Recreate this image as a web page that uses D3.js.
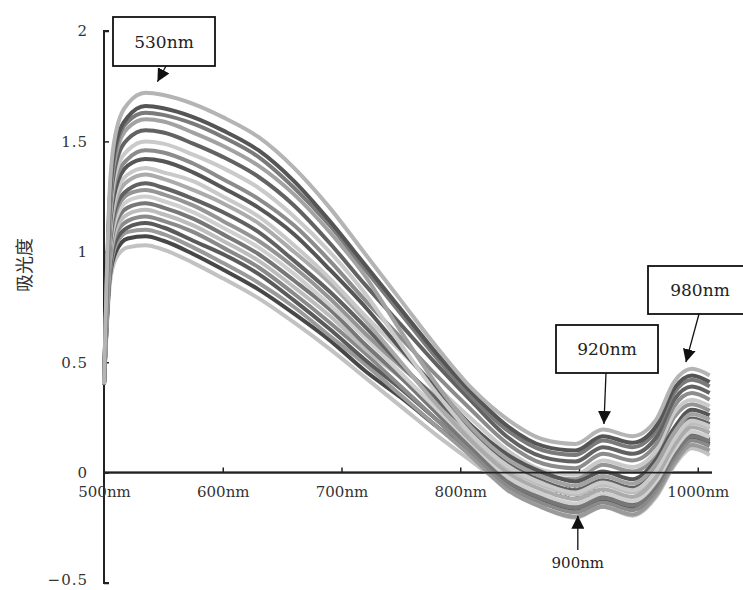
<!DOCTYPE html>
<html>
<head>
<meta charset="utf-8">
<script src="https://cdn.jsdelivr.net/npm/d3@7"></script>
<style>
  body { margin: 0; background: #fff; }
</style>
</head>
<body>
<div id="chart"></div>
<script>
// wavelength grid (nm)
var wavelengths = [500, 505, 510, 520, 535, 550, 575, 600, 630, 660, 690, 720, 750, 780, 810, 840, 870, 897, 920, 945, 965, 980, 995, 1010];

// absorbance spectra, one list per sample
var sample01 = [0.40, 1.30, 1.54, 1.67, 1.72, 1.71, 1.67, 1.61, 1.52, 1.38, 1.20, 0.99, 0.78, 0.57, 0.38, 0.24, 0.15, 0.13, 0.195, 0.165, 0.24, 0.41, 0.47, 0.44];
var sample02 = [0.40, 1.26, 1.49, 1.61, 1.66, 1.65, 1.61, 1.55, 1.46, 1.32, 1.14, 0.94, 0.74, 0.54, 0.36, 0.21, 0.12, 0.10, 0.165, 0.135, 0.21, 0.38, 0.44, 0.41];
var sample03 = [0.40, 1.24, 1.47, 1.59, 1.63, 1.62, 1.58, 1.52, 1.43, 1.29, 1.12, 0.92, 0.72, 0.52, 0.34, 0.19, 0.10, 0.08, 0.145, 0.115, 0.19, 0.36, 0.42, 0.39];
var sample04 = [0.40, 1.22, 1.44, 1.56, 1.60, 1.59, 1.54, 1.48, 1.39, 1.26, 1.09, 0.89, 0.64, 0.40, 0.20, 0.06, -0.02, -0.06, -0.015, -0.05, 0.04, 0.18, 0.265, 0.24];
var sample05 = [0.40, 1.19, 1.40, 1.51, 1.55, 1.54, 1.49, 1.43, 1.34, 1.21, 1.04, 0.85, 0.67, 0.49, 0.32, 0.16, 0.07, 0.05, 0.115, 0.085, 0.16, 0.33, 0.39, 0.36];
var sample06 = [0.40, 1.16, 1.36, 1.46, 1.50, 1.49, 1.44, 1.38, 1.29, 1.16, 1.00, 0.81, 0.58, 0.36, 0.17, 0.03, -0.05, -0.09, -0.045, -0.08, 0.01, 0.15, 0.235, 0.21];
var sample07 = [0.40, 1.13, 1.33, 1.42, 1.46, 1.45, 1.40, 1.33, 1.24, 1.12, 0.96, 0.78, 0.61, 0.44, 0.28, 0.13, 0.04, 0.02, 0.085, 0.055, 0.13, 0.30, 0.36, 0.33];
var sample08 = [0.40, 1.11, 1.29, 1.39, 1.42, 1.41, 1.36, 1.29, 1.20, 1.08, 0.92, 0.75, 0.56, 0.38, 0.21, 0.08, 0.00, -0.04, 0.005, -0.03, 0.06, 0.20, 0.285, 0.26];
var sample09 = [0.40, 1.08, 1.26, 1.35, 1.38, 1.36, 1.32, 1.25, 1.16, 1.03, 0.88, 0.71, 0.55, 0.39, 0.24, 0.10, 0.01, -0.01, 0.055, 0.025, 0.10, 0.27, 0.33, 0.30];
var sample10 = [0.40, 1.06, 1.23, 1.32, 1.35, 1.33, 1.28, 1.22, 1.13, 1.00, 0.86, 0.69, 0.50, 0.31, 0.14, 0.00, -0.08, -0.12, -0.075, -0.11, -0.02, 0.12, 0.205, 0.18];
var sample11 = [0.40, 1.04, 1.20, 1.28, 1.31, 1.29, 1.24, 1.18, 1.09, 0.96, 0.82, 0.66, 0.49, 0.33, 0.18, 0.04, -0.04, -0.08, -0.035, -0.07, 0.02, 0.16, 0.245, 0.22];
var sample12 = [0.40, 1.02, 1.18, 1.26, 1.28, 1.26, 1.21, 1.14, 1.05, 0.93, 0.79, 0.63, 0.48, 0.34, 0.20, 0.08, -0.01, -0.03, 0.035, 0.005, 0.08, 0.25, 0.31, 0.28];
var sample13 = [0.40, 1.00, 1.15, 1.23, 1.25, 1.23, 1.18, 1.11, 1.02, 0.90, 0.76, 0.61, 0.45, 0.29, 0.13, -0.02, -0.10, -0.14, -0.095, -0.13, -0.04, 0.10, 0.185, 0.16];
var sample14 = [0.40, 0.98, 1.13, 1.20, 1.22, 1.20, 1.15, 1.08, 0.99, 0.87, 0.74, 0.58, 0.43, 0.27, 0.11, -0.04, -0.12, -0.16, -0.115, -0.15, -0.06, 0.08, 0.165, 0.14];
var sample15 = [0.40, 0.96, 1.10, 1.17, 1.19, 1.17, 1.12, 1.05, 0.96, 0.84, 0.71, 0.56, 0.43, 0.30, 0.16, 0.02, -0.06, -0.10, -0.055, -0.09, 0.00, 0.14, 0.225, 0.20];
var sample16 = [0.40, 0.94, 1.08, 1.14, 1.16, 1.14, 1.09, 1.02, 0.93, 0.81, 0.68, 0.54, 0.39, 0.24, 0.09, -0.06, -0.14, -0.18, -0.135, -0.17, -0.08, 0.06, 0.145, 0.12];
var sample17 = [0.40, 0.92, 1.05, 1.11, 1.13, 1.11, 1.05, 0.99, 0.90, 0.78, 0.65, 0.51, 0.38, 0.24, 0.10, -0.03, -0.11, -0.15, -0.105, -0.14, -0.05, 0.09, 0.175, 0.15];
var sample18 = [0.40, 0.90, 1.03, 1.09, 1.10, 1.08, 1.02, 0.95, 0.86, 0.75, 0.62, 0.49, 0.35, 0.21, 0.07, -0.08, -0.16, -0.20, -0.155, -0.19, -0.10, 0.04, 0.125, 0.10];
var sample19 = [0.40, 0.89, 1.00, 1.06, 1.07, 1.05, 0.99, 0.92, 0.83, 0.72, 0.60, 0.46, 0.34, 0.21, 0.08, -0.05, -0.13, -0.17, -0.125, -0.16, -0.07, 0.07, 0.155, 0.13];
var sample20 = [0.40, 0.86, 0.97, 1.02, 1.03, 1.01, 0.95, 0.88, 0.79, 0.68, 0.56, 0.43, 0.30, 0.17, 0.05, -0.07, -0.16, -0.205, -0.155, -0.195, -0.11, 0.03, 0.11, 0.08];

var samples = [sample20, sample19, sample18, sample17, sample16, sample15, sample14, sample13, sample12, sample11,
               sample10, sample09, sample08, sample07, sample06, sample05, sample04, sample03, sample02, sample01];

// axis ticks
var xTicks = [500, 600, 700, 800, 900, 1000];
var yTicks = [-0.5, 0, 0.5, 1, 1.5, 2];

// peak call-outs
var calloutText = ["530nm", "920nm", "980nm", "900nm"];
var calloutWave = [545, 921, 990, 899];
var calloutValue = [1.77, 0.22, 0.50, -0.195];

var grays = ["#c2c2c2", "#474747", "#9a9a9a", "#5a5a5a", "#8a8a8a", "#bdbdbd", "#777777", "#cfcfcf", "#959595", "#616161",
             "#ababab", "#c9c9c9", "#565656", "#8c8c8c", "#cacaca", "#626262", "#a2a2a2", "#7a7a7a", "#555555", "#b4b4b4"];

var serif = "'DejaVu Serif', 'Liberation Serif', serif";
var width = 743, height = 590;
var svg = d3.select("#chart").append("svg")
    .attr("width", width)
    .attr("height", height);

var x = d3.scaleLinear().domain([500, 1012]).range([104, 712]);
var y = d3.scaleLinear().domain([-0.5, 2]).range([583, 31]);

// y axis
var yAxis = svg.append("g")
    .attr("transform", "translate(" + x(500) + ",0)")
    .call(d3.axisRight(y)
        .tickValues(yTicks)
        .tickSize(5)
        .tickFormat(function(d) { return d < 0 ? "\u22120.5" : String(d); }));
yAxis.select(".domain").attr("stroke", "#222").attr("stroke-width", 2).attr("d", "M5," + y(2) + "H0V" + y(-0.5) + "H5");
yAxis.selectAll(".tick line").attr("stroke", "#222").attr("stroke-width", 1.5);
yAxis.selectAll(".tick text")
    .attr("x", -16)
    .attr("text-anchor", "end")
    .attr("fill", "#333")
    .style("font-size", "15px")
    .style("letter-spacing", "1px")
    .style("font-family", serif);
yAxis.selectAll(".tick text").filter(function(d) { return d < 0; }).attr("dy", "0.1em");

// x axis at zero (labels sit under the spectra, as in the source figure)
var xAxis = svg.append("g")
    .attr("transform", "translate(0," + y(0) + ")")
    .call(d3.axisTop(x)
        .tickValues(xTicks)
        .tickSize(5)
        .tickFormat(function(d) { return d + "nm"; }));
xAxis.select(".domain").attr("stroke", "#222").attr("stroke-width", 2).attr("d", "M" + x(500) + ",0H" + x(1012));
xAxis.selectAll(".tick line").attr("stroke", "#222").attr("stroke-width", 1.5);
xAxis.selectAll(".tick text")
    .attr("y", 24)
    .attr("dy", "0")
    .attr("fill", "#333")
    .style("font-size", "15px")
    .style("font-family", serif);
xAxis.selectAll(".tick").filter(function(d) { return d === 500; }).select("line").remove();

// spectra
var line = d3.line()
    .x(function(d, i) { return x(wavelengths[i]); })
    .y(function(d) { return y(d); })
    .curve(d3.curveMonotoneX);

svg.append("g")
    .attr("class", "spectra")
    .selectAll("path")
    .data(samples)
    .enter()
    .append("path")
    .attr("d", line)
    .attr("fill", "none")
    .attr("stroke", function(d, i) { return grays[i]; })
    .attr("stroke-width", 4)
    .attr("stroke-linejoin", "round");

// zero line drawn again over the spectra
svg.append("line")
    .attr("x1", x(500)).attr("x2", x(1012))
    .attr("y1", y(0)).attr("y2", y(0))
    .attr("stroke", "#222")
    .attr("stroke-width", 1.6);

// y label
svg.append("text")
    .attr("transform", "translate(31,265) rotate(-90)")
    .attr("text-anchor", "middle")
    .attr("fill", "#333")
    .style("font-size", "18px")
    .style("font-family", "'Noto Sans CJK SC', sans-serif")
    .text("吸光度");

// arrow head
svg.append("defs").append("marker")
    .attr("id", "head")
    .attr("viewBox", "0 0 10 10")
    .attr("refX", 10).attr("refY", 5)
    .attr("markerWidth", 13).attr("markerHeight", 13)
    .attr("markerUnits", "userSpaceOnUse")
    .attr("orient", "auto")
    .append("path")
    .attr("d", "M0,0L10,5L0,10Z")
    .attr("fill", "#111");

// boxed call-outs: [left, top, w, h, arrow start x, arrow start y]
var boxes = [
    [113, 17, 102, 49, 166, 66],
    [556, 325, 102, 48, 606, 373],
    [648, 266, 104, 48, 699, 314]
];
boxes.forEach(function(b, i) {
    svg.append("rect")
        .attr("x", b[0]).attr("y", b[1])
        .attr("width", b[2]).attr("height", b[3])
        .attr("fill", "#fff")
        .attr("stroke", "#111")
        .attr("stroke-width", 1.8);
    svg.append("text")
        .attr("x", b[0] + b[2] / 2)
        .attr("y", b[1] + b[3] / 2 + 6)
        .attr("text-anchor", "middle")
        .attr("fill", "#222")
        .style("font-size", "17px")
        .style("font-family", serif)
        .text(calloutText[i]);
    svg.append("line")
        .attr("x1", b[4]).attr("y1", b[5])
        .attr("x2", x(calloutWave[i])).attr("y2", y(calloutValue[i]))
        .attr("stroke", "#111")
        .attr("stroke-width", 1.3)
        .attr("marker-end", "url(#head)");
});

// 900nm label below the curves
svg.append("text")
    .attr("x", x(calloutWave[3]))
    .attr("y", 568)
    .attr("text-anchor", "middle")
    .attr("fill", "#222")
    .style("font-size", "15px")
    .style("font-family", serif)
    .text(calloutText[3]);
svg.append("line")
    .attr("x1", x(calloutWave[3])).attr("y1", 550)
    .attr("x2", x(calloutWave[3])).attr("y2", y(calloutValue[3]))
    .attr("stroke", "#111")
    .attr("stroke-width", 1.3)
    .attr("marker-end", "url(#head)");
</script>
</body>
</html>
